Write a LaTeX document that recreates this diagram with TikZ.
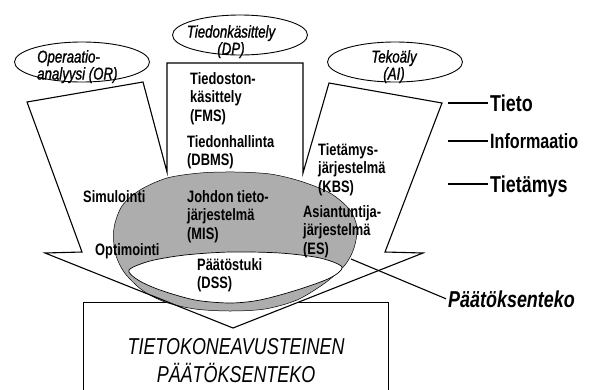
\documentclass[tikz,border=0pt]{standalone}
\usepackage{fontspec}
\setmainfont{Liberation Sans}
\newfontfamily\cf{Liberation Sans}[FakeStretch=0.78]
\newfontfamily\cfm{Liberation Sans}[FakeStretch=0.78, FakeBold=1.2]
\usetikzlibrary{shapes.geometric}
\begin{document}
\begin{tikzpicture}[x=1pt,y=-1pt,
  outl/.style={line width=1.1pt, line join=miter},
  boldlbl/.style={inner sep=0pt, anchor=north west, align=left, font=\cf\bfseries\fontsize{16.5}{18.5}\selectfont},
  itlbl/.style={inner sep=0pt, align=center, font=\cfm\itshape\fontsize{17}{17}\selectfont},
  topell/.style={ellipse, draw, line width=0.9pt, minimum width=135pt, minimum height=40pt, inner sep=0pt},
  sidelbl/.style={inner sep=2pt, anchor=base west, font=\cf\bfseries\fontsize{23}{26}\selectfont},
  pointer/.style={line width=1.1pt}]
\useasboundingbox (0,0) rectangle (591,389);
\clip (0,0) rectangle (591,389);
% bottom box
\node[draw, line width=1.1pt, fill=white, anchor=north west, minimum width=305pt, minimum height=116pt, inner sep=0pt,
      align=center, font=\cf\itshape\fontsize{23}{28}\selectfont] (box) at (83,302) {TIETOKONEAVUSTEINEN\\PÄÄTÖKSENTEKO};
% arrow fill
\fill[white] (45,253) -- (82,252) -- (27,102) -- (143,82) -- (167,172) -- (167,63) -- (303,63) -- (303,173)
  -- (329,83) -- (442,103) -- (385,252) -- (423,253) -- (233,328) -- cycle;
% outer dotted ellipse
\draw[line width=0.5pt, fill=black!32] plot[smooth cycle] coordinates {
  (114,228) (122,206) (140,190) (167,178) (200,173) (235,172) (270,174) (300,181) (330,193) (350,210)
  (357,228) (354,248) (345,265) (325,283) (297,300) (265,309) (230,311) (195,309) (165,302) (142,290)
  (124,272) (115,252)};
% inner ellipse
\draw[line width=0.7pt, fill=white] plot[smooth cycle] coordinates {
  (129,270) (150,261) (185,255) (230,252) (280,253) (320,258) (342,267) (330,278) (297,290) (260,300)
  (230,303) (195,300) (160,290) (138,280)};
% arrow outline
\draw[outl] (45,253) -- (82,252) -- (27,102) -- (143,82) -- (167,172) -- (167,63) -- (303,63) -- (303,173)
  -- (329,83) -- (442,103) -- (385,252) -- (423,253) -- (233,328) -- cycle;
% top ellipses
\node[topell] (orE) at (82,62) {};
\node[topell] (dpE) at (240,35) {};
\node[topell] (aiE) at (395,62) {};
\node[itlbl, anchor=north west, align=left] (orT) at (37,50) {Operaatio-\\analyysi (OR)};
\node[itlbl, anchor=north] (dpT) at (231,25) {Tiedonkäsittely\\(DP)};
\node[itlbl, anchor=north] (aiT) at (394,50) {Tekoäly\\(AI)};
% inner labels
\node[boldlbl] (fms) at (190,72) {Tiedoston-\\käsittely\\(FMS)};
\node[boldlbl] (dbms) at (187,135) {Tiedonhallinta\\(DBMS)};
\node[boldlbl] (sim) at (83,190) {Simulointi};
\node[boldlbl] (opt) at (95,243) {Optimointi};
\node[boldlbl] (mis) at (187,190) {Johdon tieto-\\järjestelmä\\(MIS)};
\node[boldlbl] (dss) at (197,258) {Päätöstuki\\(DSS)};
\node[boldlbl] (kbs) at (318,143) {Tietämys-\\järjestelmä\\(KBS)};
\node[boldlbl] (es) at (303,205) {Asiantuntija-\\järjestelmä\\(ES)};
% right labels
\coordinate (c1) at (448,103);
\coordinate (c2) at (448,141);
\coordinate (c3) at (448,184);
\node[sidelbl] (tieto) at (488,111) {Tieto};
\node[sidelbl, font=\cf\bfseries\fontsize{20.7}{24}\selectfont] (info) at (488,148) {Informaatio};
\node[sidelbl] (tietamys) at (488,192) {Tietämys};
\draw[pointer] (c1) -- (c1 -| tieto.west);
\draw[pointer] (c2) -- (c2 -| info.west);
\draw[pointer] (c3) -- (c3 -| tietamys.west);
\node[sidelbl, font=\cf\bfseries\itshape\fontsize{23}{26}\selectfont] (paat) at (446,307) {Päätöksenteko};
\coordinate (misE) at (351,259);
\draw[pointer] (misE) -- (paat.west);
\end{tikzpicture}
\end{document}
